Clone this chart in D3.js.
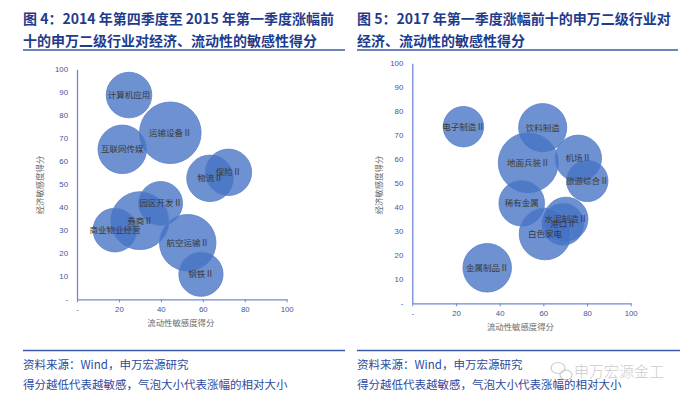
<!DOCTYPE html>
<html><head><meta charset="utf-8">
<script src="https://cdn.jsdelivr.net/npm/d3@7/dist/d3.min.js"></script>
<style>
html,body{margin:0;padding:0;background:#fff;}
svg{display:block;font-family:"Noto Sans CJK SC","Noto Sans",sans-serif;}
</style></head>
<body>
<svg id="c" width="700" height="407"></svg>
<script>
// ---- data ----
const leftTitle = ["图 4：2014 年第四季度至 2015 年第一季度涨幅前", "十的申万二级行业对经济、流动性的敏感性得分"];
const rightTitle = ["图 5：2017 年第一季度涨幅前十的申万二级行业对", "经济、流动性的敏感性得分"];
const leftNames = ["计算机应用","运输设备Ⅱ","互联网传媒","物流Ⅱ","保险Ⅱ","园区开发Ⅱ","券商Ⅱ","商业物业经营","航空运输Ⅱ","钢铁Ⅱ"];
const leftLiquidity = [24.8, 44.5, 21.6, 63.4, 72.2, 39.9, 30.0, 18.1, 52.8, 59.1];
const leftEconomy  = [88.8, 72.4, 65.2, 52.6, 55.2, 41.7, 34.2, 30.1, 24.6, 10.9];
const leftSize     = [52, 95, 59, 54, 54, 48, 84, 48, 80, 49];
const rightNames = ["电子制造Ⅱ","饮料制造","地面兵装Ⅱ","机场Ⅱ","旅游综合Ⅱ","稀有金属","水泥制造Ⅱ","港口Ⅱ","白色家电","金属制品Ⅱ"];
const rightLiquidity = [23.4, 59.7, 53.1, 76.0, 80.1, 50.1, 70.4, 69.0, 60.8, 34.3];
const rightEconomy  = [73.6, 73.2, 58.6, 60.4, 51.0, 41.7, 35.1, 33.0, 28.9, 14.8];
const rightSize     = [41, 58, 90, 54, 43, 52, 48, 44, 67, 59];
const tickValues = [0, 20, 40, 60, 80, 100];
const yTickValues = [0, 10, 20, 30, 40, 50, 60, 70, 80, 90, 100];
const xAxisTitle = "流动性敏感度得分";
const yAxisTitle = "经济敏感度得分";
const sourceLine = "资料来源：Wind，申万宏源研究";
const noteLine = "得分越低代表越敏感，气泡大小代表涨幅的相对大小";
const watermark = "申万宏源金工";

const svg = d3.select("#c");
const titleColor = "#1f3b8c";
const blueText = "#2d4a9e";
const axisColor = "#7088d2";

function header(x0, x1, lines){
  const g = svg.append("g");
  lines.forEach((t,i)=>{
    g.append("text").attr("x", x0).attr("y", 24 + i*22)
      .attr("font-size", 14).attr("font-weight", 700).attr("fill", titleColor).text(t);
  });
  g.append("line").attr("x1", x0).attr("x2", x1).attr("y1", 50).attr("y2", 50)
    .attr("stroke", "#3e58a8").attr("stroke-width", 1.6);
}
function footer(x0, x1){
  const g = svg.append("g");
  g.append("line").attr("x1", x0).attr("x2", x1).attr("y1", 350.5).attr("y2", 350.5)
    .attr("stroke", "#3e58a8").attr("stroke-width", 1.6);
  g.append("text").attr("x", x0).attr("y", 369).attr("font-size", 11.5).attr("fill", blueText).text(sourceLine);
  g.append("text").attr("x", x0).attr("y", 389).attr("font-size", 11.5).attr("fill", blueText).text(noteLine);
}

function chart(o){
  const x = d3.scaleLinear().domain([0,100]).range([o.x0, o.x1]);
  const y = d3.scaleLinear().domain([0,100]).range([o.y0, o.y1]);
  const r = d3.scaleSqrt().domain([0,100]).range([0, 31.6]);
  const g = svg.append("g");
  const fmt = d => d === 0 ? "-" : d;
  const xa = g.append("g").attr("transform", `translate(0,${o.y0})`)
    .call(d3.axisBottom(x).tickValues(tickValues).tickSize(3).tickSizeOuter(0).tickFormat(fmt));
  const ya = g.append("g").attr("transform", `translate(${o.x0},0)`)
    .call(d3.axisLeft(y).tickValues(yTickValues).tickSize(0).tickSizeOuter(0).tickPadding(9).tickFormat(fmt));
  [xa, ya].forEach(a=>{
    a.select(".domain").attr("stroke", axisColor).attr("stroke-width", 1.3);
    a.selectAll(".tick line").attr("stroke", axisColor);
    a.selectAll(".tick text").attr("fill", "#3d55a3").attr("font-size", 7.8)
      .attr("font-family", "Liberation Sans, Arial, sans-serif");
  });
  xa.selectAll(".tick text").attr("dy", "0.9em");
  const data = o.names.map((n,i)=>({n, lx:o.lx[i], ey:o.ey[i], s:o.size[i]}));
  g.append("g").selectAll("circle").data(data).join("circle")
    .attr("cx", d=>x(d.lx)).attr("cy", d=>y(d.ey)).attr("r", d=>r(d.s))
    .attr("fill", "#4472c4").attr("fill-opacity", 0.78)
    .attr("stroke", "#5a80cc").attr("stroke-width", 0.8);
  g.append("g").selectAll("text").data(data).join("text")
    .attr("x", d=>x(d.lx)).attr("y", d=>y(d.ey)).attr("dy", "0.35em")
    .attr("text-anchor", "middle").attr("font-size", 8.5).attr("fill", "#3a3a3a")
    .text(d=>d.n);
  g.append("text").attr("x", (o.x0+o.x1)/2 - 1).attr("y", o.y0 + 27)
    .attr("text-anchor", "middle").attr("font-size", 8.4).attr("fill", "#6b6b6b").text(xAxisTitle);
  g.append("text").attr("transform", `translate(${o.yt},${o.ytc}) rotate(-90)`)
    .attr("text-anchor", "middle").attr("font-size", 8.4).attr("fill", "#6b6b6b").text(yAxisTitle);
}

header(23, 345, leftTitle);
header(357, 678, rightTitle);
chart({x0:77, x1:286.7, y0:299.3, y1:69.3, names:leftNames, lx:leftLiquidity, ey:leftEconomy, size:leftSize, yt:43, ytc:185});
chart({x0:412.3, x1:630.7, y0:303.3, y1:63.3, names:rightNames, lx:rightLiquidity, ey:rightEconomy, size:rightSize, yt:382, ytc:185});
footer(23, 345);
footer(357, 680);

// watermark
const wm = svg.append("g").attr("opacity", 0.5);
wm.append("ellipse").attr("cx", 558).attr("cy", 368).attr("rx", 7).attr("ry", 5.5).attr("fill", "none").attr("stroke", "#999").attr("stroke-width", 1.2);
wm.append("ellipse").attr("cx", 566).attr("cy", 375).attr("rx", 6).attr("ry", 4.8).attr("fill", "none").attr("stroke", "#999").attr("stroke-width", 1.2);
wm.append("text").attr("x", 574).attr("y", 377).attr("font-size", 15).attr("font-weight", 300)
  .attr("fill", "#9a9a9a").text(watermark);
</script>
</body></html>
